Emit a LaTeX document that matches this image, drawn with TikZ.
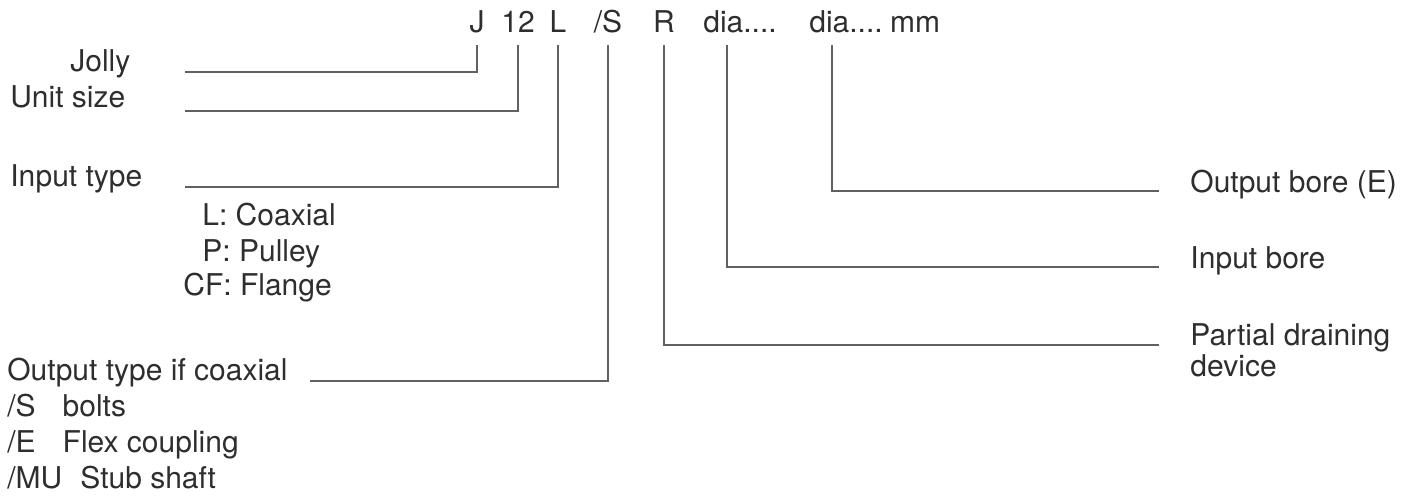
\documentclass[tikz,border=0pt]{standalone}
\usepackage{fontspec}
\setmainfont{TeX Gyre Heros}
\usetikzlibrary{calc}

\tikzset{
  lbl/.style={inner sep=0pt, text=black!82, anchor=base west,
    font=\fontsize{15}{18}\selectfont},
  code/.style={lbl, anchor=base, inner xsep=0pt, inner ysep=6pt, text depth=0pt},
  lead/.style={draw=black!62, line width=0.75pt},
}

\begin{document}
\begin{tikzpicture}[x=0.5pt,y=-0.5pt]
    \useasboundingbox (0,0) rectangle (1416,497);
    % type code
    \node[code] (cJ) at (477,33) {J};
    \node[code] (cSize) at (518,33) {12};
    \node[code] (cIn) at (558,33) {L};
    \node[code] (cOut) at (608,33) {/S};
    \node[code] (cR) at (664,33) {R};
    \node[code] (cDiaIn) at (740,33) {dia....};
    \node[code] (cDiaOut) at (846,33) {dia....};
    \node[code] (cMM) at (915,33) {mm};

    % left labels
    \node[lbl] (jolly) at (70,72) {Jolly};
    \node[lbl] (size) at (10,108) {Unit size};
    \node[lbl] (inType) at (10,187) {Input type};
    \node[lbl] (inL) at (202,225) {L: Coaxial};
    \node[lbl] (inP) at (202,261) {P: Pulley};
    \node[lbl] (inCF) at (183,295) {CF: Flange};
    \node[lbl] (outType) at (7,380) {Output type if coaxial};
    \node[lbl] (outS) at (7,416) {/S\hspace{0.9em}bolts};
    \node[lbl] (outE) at (7,452) {/E\hspace{0.9em}Flex coupling};
    \node[lbl] (outMU) at (7,488) {/MU\hspace{0.6em}Stub shaft};

    % right labels
    \node[lbl] (boreOut) at (1190,192) {Output bore (E)};
    \node[lbl] (boreIn) at (1190,268) {Input bore};
    \node[lbl] (drain) at (1190,345) {Partial draining};
    \node[lbl] (drainB) at (1190,376) {device};

    % leader lines, left
    \coordinate (jJolly) at (185,72);
    \coordinate (jSize) at (185,111);
    \coordinate (jIn) at (185,187);
    \coordinate (jOut) at (310,381);
    \draw[lead] (jJolly) -| (cJ.south);
    \draw[lead] (jSize) -| (cSize.south);
    \draw[lead] (jIn) -| (cIn.south);
    \draw[lead] (jOut) -| (cOut.south);

    % leader lines, right
    \coordinate (jBoreOut) at (1159,191);
    \coordinate (jBoreIn) at (1159,267);
    \coordinate (jDrain) at (1159,345);
    \draw[lead] (jBoreOut) -| ([xshift=-7pt]cDiaOut.south);
    \draw[lead] (jBoreIn) -| ([xshift=-6.5pt]cDiaIn.south);
    \draw[lead] (jDrain) -| (cR.south);
\end{tikzpicture}
\end{document}
